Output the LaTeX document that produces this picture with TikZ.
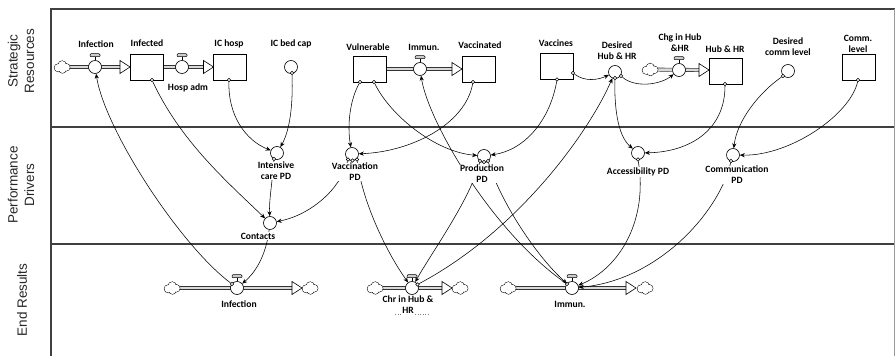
\documentclass[tikz,border=0pt]{standalone}
\usepackage{fontspec}
\setmainfont{Carlito}
\newfontfamily\lanefont{Liberation Sans}
\usetikzlibrary{arrows.meta,backgrounds,calc}
\tikzset{
  stock/.style={draw, line width=0.6pt, minimum width=33pt, minimum height=26pt, inner sep=0pt, fill=white},
  aux/.style={draw, circle, line width=0.6pt, minimum size=13pt, inner sep=0pt, fill=white},
  valve/.style={aux},
  odot/.style={draw, circle, line width=0.5pt, minimum size=3.4pt, inner sep=0pt, fill=white},
  src/.style={rectangle, minimum width=15pt, minimum height=11pt, inner sep=0pt},
  pipe/.style={draw=black!80, line width=0.6pt, double=black!15, double distance=2.6pt},
  conn/.style={draw, line width=0.55pt, -{Stealth[length=5pt,width=4.2pt]}},
  lbl/.style={font=\bfseries\fontsize{9.6}{11}\selectfont, align=center, fill=white, inner sep=0.5pt},
  lane/.style={font=\lanefont\fontsize{13.5}{16.5}\selectfont, rotate=90, align=center, text=black!85},
  frameline/.style={line width=1.8pt, draw=black!75},
  fhead/.pic={\draw[line width=0.6pt, fill=white] (0,0) -- (-10,-6.5) -- (-10,6.5) -- cycle;}
}
\begin{document}
\begin{tikzpicture}[x=1pt,y=-1pt]
\useasboundingbox (0,0) rectangle (895,356);
% frame
\draw[frameline] (51,356) -- (51,9) -- (895,9);
\draw[frameline] (51,127) -- (895,127);
\draw[frameline] (51,244) -- (895,244);
\draw[black!40, line width=0.5pt] (894,9) -- (894,356);
\node[lane] (lane1) at (21,61) {Strategic\\Resources};
\node[lane] (lane2) at (21,185) {Performance\\Drivers};
\node[lane] (lane3) at (22,300) {End Results};

% ---- strategic resources ----
\node[src] (c1) at (62,67) {};
\node[valve] (v1) at (95,67) {};
\node[stock] (infected) at (146.5,67) {};
\node[valve] (v2) at (182,67) {};
\node[stock] (ichosp) at (230,67) {};
\node[aux] (icbed) at (291,67) {};
\node[stock] (vul) at (369.5,69) {};
\node[valve] (v3) at (420,69) {};
\node[stock] (vaccd) at (478.5,69) {};
\node[stock] (vaccines) at (556.5,66.5) {};
\node[aux] (deshub) at (615,72) {};
\node[src] (c4) at (650,69.5) {};
\node[valve] (v4) at (679,70) {};
\node[stock] (hub) at (725.5,71) {};
\node[aux] (descomm) at (788,71) {};
\node[stock] (comm) at (858.5,67) {};

% ---- performance drivers ----
\node[aux] (icpd) at (277,153) {};
\node[aux] (contacts) at (270,223) {};
\node[aux] (vaccpd) at (352,154) {};
\node[aux] (prodpd) at (484,156) {};
\node[aux] (accpd) at (638,153) {};
\node[aux] (commpd) at (733,155) {};

% ---- end results ----
\node[src] (ec1) at (172,288) {};
\node[valve] (e1) at (237,288) {};
\node[src] (ec2) at (310,288) {};
\node[src] (ec3) at (375,288) {};
\node[valve] (e2) at (412,288) {};
\node[src] (ec4) at (460,288) {};
\node[src] (ec5) at (508,288) {};
\node[valve] (e3) at (572,288) {};
\node[src] (ec6) at (645,288) {};

% flow tips
\coordinate (t1) at (130,67);
\coordinate (t2) at (213.5,67);
\coordinate (t3) at (462,69);
\coordinate (t4) at (709,70);
\coordinate (u1) at (302,288);
\coordinate (u2) at (452,288);
\coordinate (u3) at (636,288);

\begin{pgfonlayer}{background}
\draw[pipe] (c1) -- ($(t1)+(-10,0)$);
\draw[pipe] (infected) -- ($(t2)+(-10,0)$);
\draw[pipe] (vul) -- ($(t3)+(-10,0)$);
\draw[pipe] (c4) -- ($(t4)+(-10,0)$);
\draw[pipe] (ec1) -- ($(u1)+(-10,0)$);
\draw[pipe] (ec3) -- ($(u2)+(-10,0)$);
\draw[pipe] (ec5) -- ($(u3)+(-10,0)$);
\pic at (t1) {fhead};
\pic at (t2) {fhead};
\pic at (t3) {fhead};
\pic at (t4) {fhead};
\pic at (u1) {fhead};
\pic at (u2) {fhead};
\pic at (u3) {fhead};
\end{pgfonlayer}

% clouds (sources and sinks): outlined bumps, inner lines erased
\foreach \c in {c1,c4,ec1,ec2,ec3,ec4,ec5,ec6}{
  \begin{scope}[shift={(\c)}]
    \draw[line width=0.6pt, fill=white]
      (-3.8,0.8) circle[radius=4pt] (0.2,-2.2) circle[radius=4pt]
      (4.2,0.3) circle[radius=3.8pt] (0.5,2.6) circle[radius=3.6pt];
    \fill[white]
      (-3.8,0.8) circle[radius=3.7pt] (0.2,-2.2) circle[radius=3.7pt]
      (4.2,0.3) circle[radius=3.5pt] (0.5,2.6) circle[radius=3.3pt];
  \end{scope}
}

% valve handles
\foreach \v in {v1,v2,v3,v4,e1,e2,e3}{
  \draw[line width=0.5pt] (\v.north) -- ++(0,-3.5);
  \draw[line width=0.5pt, fill=black!20, rounded corners=1pt] ($(\v.north)+(-5,-3.5)$) rectangle ($(\v.north)+(5,-6.5)$);
}

% origin dots
\node[odot] (d_infected) at (152,80) {};
\node[odot] (d_ichosp) at (229,80) {};
\node[odot] (d_icbed) at (292,73) {};
\node[odot] (d_icpd) at (274,159) {};
\node[odot] (d_vacc1) at (348,159.5) {};
\node[odot] (d_vacc2) at (352.5,160.5) {};
\node[odot] (d_vacc3) at (357,159.5) {};
\node[odot] (d_prod1) at (480,161) {};
\node[odot] (d_prod2) at (484,162) {};
\node[odot] (d_prod3) at (488,161) {};
\node[odot] (d_vul1) at (360,82) {};
\node[odot] (d_vul2) at (374,82) {};
\node[odot] (d_vaccd) at (473,82) {};
\node[odot] (d_vaccines1) at (557,79.5) {};
\node[odot] (d_vaccines2) at (573,73) {};
\node[odot] (d_deshub1) at (615,78) {};
\node[odot] (d_deshub2) at (621,76) {};
\node[odot] (d_hub) at (725,84) {};
\node[odot] (d_descomm) at (783,76) {};
\node[odot] (d_comm) at (858,80) {};
\node[odot] (d_acc) at (638,159.5) {};
\node[odot] (d_commpd) at (731,161) {};
\node[odot] (d_e1) at (232,284) {};
\node[odot] (d_e2) at (417.5,284.5) {};
\node[odot] (d_e3) at (567,284) {};

% connectors
\draw[conn] (d_infected) .. controls (180,140) and (225,180) .. (contacts);
\draw[conn] (d_ichosp) .. controls (228,115) and (245,140) .. (icpd);
\draw[conn] (d_icbed) .. controls (293,105) and (290,130) .. (icpd);
\draw[conn] (d_icpd) .. controls (272,185) and (269,200) .. (contacts);
\draw[conn] (d_vacc1) .. controls (340,190) and (310,215) .. (contacts);
\draw[conn] (contacts) .. controls (266,255) and (256,272) .. (e1);
\draw[conn] (d_e1) .. controls (180,245) and (105,130) .. (v1);
\draw[conn] (d_vul1) .. controls (350,100) and (347,125) .. (vaccpd);
\draw[conn] (d_vul2) .. controls (390,115) and (435,152) .. (prodpd);
\draw[conn] (d_vaccd) .. controls (465,125) and (410,152) .. (vaccpd);
\draw[conn] (d_e3) .. controls (490,230) and (428,120) .. (v3);
\draw[conn] (d_prod3) .. controls (500,200) and (535,255) .. (e3);
\draw[conn] (d_prod1) .. controls (470,200) and (430,255) .. (e2);
\draw[conn] (d_vacc3) .. controls (362,200) and (385,250) .. (e2);
\draw[conn] (d_e2) .. controls (520,230) and (590,130) .. (deshub);
\draw[conn] (d_acc) .. controls (648,220) and (620,268) .. (e3);
\draw[conn] (d_commpd) .. controls (720,210) and (660,280) .. (e3);
\draw[conn] (d_vaccines1) .. controls (550,120) and (525,150) .. (prodpd);
\draw[conn] (d_vaccines2) .. controls (585,82) and (598,80) .. (deshub);
\draw[conn] (d_deshub2) .. controls (635,88) and (660,85) .. (v4);
\draw[conn] (d_deshub1) .. controls (614,115) and (620,138) .. (accpd);
\draw[conn] (d_hub) .. controls (725,130) and (690,152) .. (accpd);
\draw[conn] (d_descomm) .. controls (760,92) and (737,120) .. (commpd);
\draw[conn] (d_comm) .. controls (850,115) and (790,156) .. (commpd);

% labels
\node[lbl] (l_infection) at (96,44) {Infection};
\node[lbl] (l_infected) at (147,43) {Infected};
\node[lbl] (l_hosp) at (188,88) {Hosp adm};
\node[lbl] (l_ichosp) at (229,44) {IC hosp};
\node[lbl] (l_icbed) at (291,44) {IC bed cap};
\node[lbl] (l_vul) at (368,47) {Vulnerable};
\node[lbl] (l_immun) at (424,47) {Immun.};
\node[lbl] (l_vaccd) at (480,45) {Vaccinated};
\node[lbl] (l_vaccines) at (556,43) {Vaccines};
\node[lbl] (l_deshub) at (617,51) {Desired\\Hub \& HR};
\node[lbl] (l_chg) at (680,42.5) {Chg in Hub\\\&HR};
\node[lbl] (l_hub) at (725,49) {Hub \& HR};
\node[lbl] (l_descomm) at (788,46.5) {Desired\\comm level};
\node[lbl] (l_comm) at (858,43.5) {Comm.\\level};
\node[lbl] (l_icpd) at (276,171) {Intensive\\care PD};
\node[lbl] (l_contacts) at (258,236) {Contacts};
\node[lbl] (l_vaccpd) at (355,172) {Vaccination\\PD};
\node[lbl] (l_prodpd) at (482,174) {Production\\PD};
\node[lbl] (l_acc) at (638,172) {Accessibility PD};
\node[lbl] (l_commpd) at (737,175) {Communication\\PD};
\node[lbl] (l_einf) at (239,304) {Infection};
\node[lbl] (l_chr) at (408,305) {Chr in Hub \&\\HR};
\node[lbl] (l_eimm) at (570,304) {Immun.};
\draw[dotted, black!50, line width=0.6pt] (395,314) -- (401,314) (415,314) -- (430,314);
\end{tikzpicture}
\end{document}
